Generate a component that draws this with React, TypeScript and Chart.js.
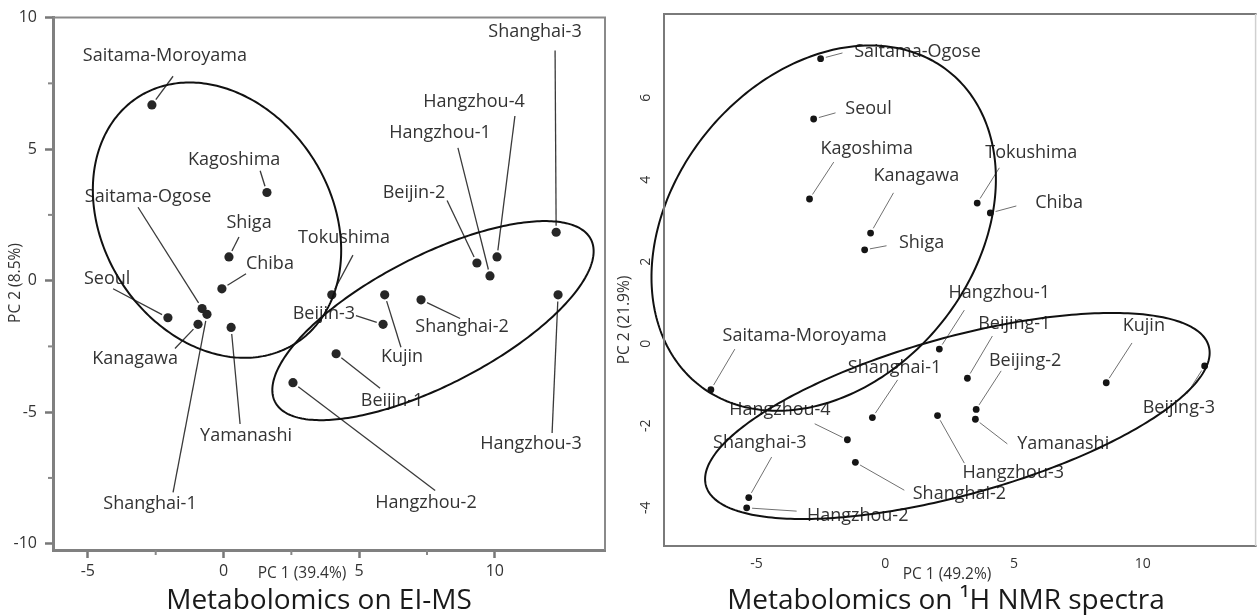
import React, { useEffect, useRef } from "react";
import { Chart, registerables } from "chart.js";

Chart.register(...registerables);

const FONT = '"Open Sans", "Noto Sans", sans-serif';

// ---------------- Left panel: Metabolomics on EI-MS ----------------
const EI_NAMES = [
  "Saitama-Moroyama", "Kagoshima", "Saitama-Ogose", "Shiga", "Chiba", "Seoul", "Kanagawa",
  "Yamanashi", "Shanghai-1", "Tokushima", "Beijin-3", "Kujin", "Shanghai-2", "Beijin-1",
  "Hangzhou-2", "Beijin-2", "Hangzhou-1", "Hangzhou-4", "Shanghai-3", "Hangzhou-3",
];
const EI_PC1 = [-2.64, 1.6, -0.79, 0.2, -0.06, -2.05, -0.94, 0.28, -0.61, 3.99, 5.88, 5.94, 7.28, 4.15, 2.56, 9.34, 9.82, 10.08, 12.26, 12.33];
const EI_PC2 = [6.68, 3.35, -1.06, 0.9, -0.31, -1.41, -1.66, -1.78, -1.28, -0.54, -1.66, -0.54, -0.73, -2.78, -3.88, 0.67, 0.18, 0.9, 1.84, -0.54];
// label anchors and leader-line starts (data units)
const EI_LABEL_X = [-2.16, 0.39, -2.78, 0.94, 1.71, -4.29, -3.26, 0.83, -2.71, 4.44, 3.7, 6.58, 8.79, 6.21, 7.46, 7.02, 7.98, 9.23, 11.48, 11.33];
const EI_LABEL_Y = [8.56, 4.61, 3.2, 2.18, 0.63, 0.07, -2.99, -5.9, -8.47, 1.62, -1.25, -2.9, -1.74, -4.58, -8.43, 3.35, 5.62, 6.79, 9.47, -6.2];
const EI_LEAD_X = [-1.86, 1.35, -3.15, 0.57, 0.83, -4.07, -1.79, 0.61, -1.86, 4.77, 4.88, 6.54, 8.72, 5.77, 7.8, 8.24, 8.64, 10.74, 12.22, 12.11];
const EI_LEAD_Y = [7.77, 4.18, 2.79, 1.66, 0.26, -0.31, -2.58, -5.45, -8.05, 0.97, -1.33, -2.53, -1.44, -4.09, -7.98, 3.05, 5.05, 6.26, 8.75, -5.79];
const EI_X_TICKS = [-5, 0, 5, 10];
const EI_X_MINOR = [-2.5, 2.5, 7.5];
const EI_Y_TICKS = [-10, -5, 0, 5, 10];
const EI_Y_MINOR = [-7.5, -2.5, 2.5, 7.5];
const EI_ELLIPSES = [
  { cx: -0.24, cy: 2.3, a: 5.51, b: 4.24, deg: -60.7 },
  { cx: 7.72, cy: -1.52, a: 6.59, b: 2.44, deg: 28.2 },
];

// ---------------- Right panel: Metabolomics on 1H NMR spectra ----------------
const NMR_NAMES = [
  "Saitama-Ogose", "Seoul", "Kagoshima", "Kanagawa", "Shiga", "Tokushima", "Chiba", "Hangzhou-1",
  "Saitama-Moroyama", "Shanghai-1", "Hangzhou-4", "Shanghai-3", "Hangzhou-2", "Shanghai-2",
  "Beijing-1", "Beijing-2", "Yamanashi", "Hangzhou-3", "Kujin", "Beijing-3",
];
const NMR_PC1 = [-2.51, -2.78, -2.94, -0.57, -0.8, 3.57, 4.08, 2.1, -6.77, -0.5, -1.47, -5.3, -5.38, -1.16, 3.19, 3.53, 3.5, 2.03, 8.58, 12.4];
const NMR_PC2 = [6.95, 5.48, 3.53, 2.7, 2.29, 3.43, 3.19, -0.13, -1.12, -1.8, -2.34, -3.75, -4.0, -2.89, -0.84, -1.6, -1.84, -1.75, -0.95, -0.54];
const NMR_LABEL_X = [1.25, -0.65, -0.72, 1.21, 1.41, 5.67, 6.75, 4.43, -3.13, 0.36, -4.09, -4.87, -1.07, 2.88, 5.01, 5.43, 6.91, 4.97, 10.04, 11.4];
const NMR_LABEL_Y = [7.12, 5.73, 4.75, 4.09, 2.46, 4.65, 3.43, 1.24, 0.19, -0.59, -1.61, -2.42, -4.2, -3.66, 0.48, -0.42, -2.44, -3.15, 0.43, -1.57];
const NMR_LEAD_X = [-1.66, -1.93, -2.0, 0.32, 0.05, 4.43, 5.09, 3.07, -5.84, 0.48, -2.74, -4.41, -3.44, 0.74, 4.16, 4.5, 4.74, 3.07, 9.58, 11.71];
const NMR_LEAD_Y = [7.09, 5.63, 4.43, 3.68, 2.39, 4.29, 3.36, 0.82, -0.13, -0.88, -1.95, -2.76, -4.08, -3.57, 0.19, -0.66, -2.44, -2.91, 0.02, -1.22];
const NMR_X_TICKS = [-5, 0, 5, 10];
const NMR_Y_TICKS = [-4, -2, 0, 2, 4, 6];
const NMR_ELLIPSES = [
  { cx: -2.39, cy: 2.82, a: 6.86, b: 4.18, deg: 16.4 },
  { cx: 2.8, cy: -1.76, a: 9.92, b: 1.96, deg: 9.3 },
];

type Ell = { cx: number; cy: number; a: number; b: number; deg: number };

const EI_PANEL = {
  id: "ei",
  names: EI_NAMES, pc1: EI_PC1, pc2: EI_PC2,
  labelX: EI_LABEL_X, labelY: EI_LABEL_Y, leadX: EI_LEAD_X, leadY: EI_LEAD_Y,
  ellipses: EI_ELLIPSES as Ell[],
  xTicks: EI_X_TICKS, yTicks: EI_Y_TICKS, xMinor: EI_X_MINOR, yMinor: EI_Y_MINOR,
  xMin: -6.285, xMax: 14.06, yMin: -10.24, yMax: 10,
  yAxisW: 53, xAxisH: 65, padTop: 14, padRight: 7,
  radius: 4.6, dot: "#262626", leaderColor: "#3a3a3a", leaderWidth: 1.3,
  axisStyle: true, tickFont: 16, xTickPad: 4, yTickPad: 8,
  xTitle: { text: "PC 1 (39.4%)", x: 302, y: 574 },
  yTitle: { text: "PC 2 (8.5%)", x: 16, y: 283 },
  big: { text: "Metabolomics on EI-MS", x: 319, y: 609 },
  yLabelX: 0,
};

const NMR_PANEL = {
  id: "nmr",
  names: NMR_NAMES, pc1: NMR_PC1, pc2: NMR_PC2,
  labelX: NMR_LABEL_X, labelY: NMR_LABEL_Y, leadX: NMR_LEAD_X, leadY: NMR_LEAD_Y,
  ellipses: NMR_ELLIPSES as Ell[],
  xTicks: NMR_X_TICKS, yTicks: NMR_Y_TICKS, xMinor: [] as number[], yMinor: [] as number[],
  xMin: -8.59, xMax: 14.34, yMin: -4.93, yMax: 8.04,
  yAxisW: 52, xAxisH: 69, padTop: 14, padRight: 2,
  radius: 3.4, dot: "#151515", leaderColor: "#707070", leaderWidth: 1,
  axisStyle: false, tickFont: 14, xTickPad: 10, yTickPad: 0,
  xTitle: { text: "PC 1 (49.2%)", x: 335, y: 575 },
  yTitle: { text: "PC 2 (21.9%)", x: 13, y: 320 },
  big: { text: "Metabolomics on \u00B9H NMR spectra", x: 334, y: 609 },
  yLabelX: 34,
};

type Panel = typeof EI_PANEL;

function annotations(p: Panel) {
  return {
    id: "annot_" + p.id,
    afterDatasetsDraw(chart: any) {
      const { ctx, scales } = chart;
      const x = scales.x, y = scales.y;
      ctx.save();
      // leader lines
      ctx.strokeStyle = p.leaderColor;
      ctx.lineWidth = p.leaderWidth;
      for (let i = 0; i < p.names.length; i++) {
        const px = x.getPixelForValue(p.pc1[i]);
        const py = y.getPixelForValue(p.pc2[i]);
        const sx = x.getPixelForValue(p.leadX[i]);
        const sy = y.getPixelForValue(p.leadY[i]);
        const dx = px - sx, dy = py - sy;
        const d = Math.hypot(dx, dy) || 1;
        const stop = p.radius + 2;
        ctx.beginPath();
        ctx.moveTo(sx, sy);
        ctx.lineTo(px - (dx / d) * stop, py - (dy / d) * stop);
        ctx.stroke();
      }
      // labels
      ctx.fillStyle = "#333";
      ctx.font = `18px ${FONT}`;
      ctx.textAlign = "center";
      ctx.textBaseline = "middle";
      for (let i = 0; i < p.names.length; i++) {
        ctx.fillText(p.names[i], x.getPixelForValue(p.labelX[i]), y.getPixelForValue(p.labelY[i]));
      }
      // group ellipses
      ctx.strokeStyle = "#111";
      ctx.lineWidth = 2;
      for (const e of p.ellipses) {
        const th = (e.deg * Math.PI) / 180;
        ctx.beginPath();
        const n = 300;
        for (let k = 0; k <= n; k++) {
          const t = (k / n) * Math.PI * 2;
          const ux = e.a * Math.cos(t), uy = e.b * Math.sin(t);
          const vx = e.cx + ux * Math.cos(th) - uy * Math.sin(th);
          const vy = e.cy + ux * Math.sin(th) + uy * Math.cos(th);
          const qx = x.getPixelForValue(vx), qy = y.getPixelForValue(vy);
          if (k === 0) ctx.moveTo(qx, qy);
          else ctx.lineTo(qx, qy);
        }
        ctx.closePath();
        ctx.stroke();
      }
      ctx.restore();
    },
    afterDraw(chart: any) {
      const { ctx, chartArea: a, scales } = chart;
      const x = scales.x, y = scales.y;
      ctx.save();
      if (p.axisStyle) {
        ctx.strokeStyle = "#8a8a8a";
        ctx.lineWidth = 2;
        ctx.beginPath();
        ctx.moveTo(a.left, a.top);
        ctx.lineTo(a.right, a.top);
        ctx.lineTo(a.right, a.bottom);
        ctx.stroke();
        // minor ticks
        ctx.strokeStyle = "#888";
        ctx.lineWidth = 2;
        for (const v of p.xMinor) {
          const px = x.getPixelForValue(v);
          ctx.beginPath();
          ctx.moveTo(px, a.bottom);
          ctx.lineTo(px, a.bottom + 5);
          ctx.stroke();
        }
        for (const v of p.yMinor) {
          const py = y.getPixelForValue(v);
          ctx.beginPath();
          ctx.moveTo(a.left, py);
          ctx.lineTo(a.left - 5, py);
          ctx.stroke();
        }
      } else {
        ctx.strokeStyle = "#7a7a7a";
        ctx.lineWidth = 2;
        ctx.beginPath();
        ctx.moveTo(a.right + 2, a.top);
        ctx.lineTo(a.left, a.top);
        ctx.lineTo(a.left, a.bottom);
        ctx.lineTo(a.right + 2, a.bottom);
        ctx.stroke();
        ctx.strokeStyle = "#d0d0d0";
        ctx.lineWidth = 1.5;
        ctx.beginPath();
        ctx.moveTo(a.right + 1, a.top);
        ctx.lineTo(a.right + 1, a.bottom);
        ctx.stroke();
        // rotated y tick labels
        ctx.fillStyle = "#333";
        ctx.font = `${p.tickFont}px ${FONT}`;
        ctx.textAlign = "center";
        ctx.textBaseline = "middle";
        for (const v of p.yTicks) {
          ctx.save();
          ctx.translate(p.yLabelX, y.getPixelForValue(v));
          ctx.rotate(-Math.PI / 2);
          ctx.fillText(String(v), 0, 0);
          ctx.restore();
        }
      }
      // axis titles
      ctx.fillStyle = "#333";
      ctx.font = `15.5px ${FONT}`;
      ctx.textAlign = "center";
      ctx.textBaseline = "middle";
      ctx.fillText(p.xTitle.text, p.xTitle.x, p.xTitle.y);
      ctx.save();
      ctx.translate(p.yTitle.x, p.yTitle.y);
      ctx.rotate(-Math.PI / 2);
      ctx.fillText(p.yTitle.text, 0, 0);
      ctx.restore();
      // big caption
      ctx.fillStyle = "#1a1a1a";
      ctx.font = `28px ${FONT}`;
      ctx.textBaseline = "alphabetic";
      ctx.fillText(p.big.text, p.big.x, p.big.y);
      ctx.restore();
    },
  };
}

function makeConfig(p: Panel): any {
  const tickFont = { family: FONT, size: p.tickFont };
  return {
    type: "scatter",
    data: {
      datasets: [
        {
          data: p.pc1.map((v, i) => ({ x: v, y: p.pc2[i] })),
          pointRadius: p.radius,
          pointHoverRadius: p.radius,
          pointBackgroundColor: p.dot,
          pointBorderWidth: 0,
          showLine: false,
        },
      ],
    },
    options: {
      responsive: false,
      maintainAspectRatio: false,
      animation: false,
      devicePixelRatio: 1,
      events: [],
      layout: { padding: { left: 0, top: p.padTop, right: p.padRight, bottom: 0 } },
      plugins: { legend: { display: false }, tooltip: { enabled: false }, title: { display: false } },
      scales: {
        x: {
          type: "linear",
          position: "bottom",
          min: p.xMin,
          max: p.xMax,
          afterBuildTicks: (s: any) => {
            s.ticks = p.xTicks.map((v) => ({ value: v }));
          },
          afterFit: (s: any) => {
            s.height = p.xAxisH;
          },
          grid: {
            display: p.axisStyle,
            drawOnChartArea: false,
            drawTicks: p.axisStyle,
            tickLength: 8,
            tickWidth: 2.5,
            tickColor: "#777",
          },
          border: { display: p.axisStyle, color: "#808080", width: 3 },
          ticks: {
            autoSkip: false,
            maxRotation: 0,
            minRotation: 0,
            padding: p.xTickPad,
            color: "#333",
            font: tickFont,
            callback: (v: any) => String(v),
          },
        },
        y: {
          type: "linear",
          position: "left",
          min: p.yMin,
          max: p.yMax,
          afterBuildTicks: (s: any) => {
            s.ticks = p.yTicks.map((v) => ({ value: v }));
          },
          afterFit: (s: any) => {
            s.width = p.yAxisW;
          },
          grid: {
            display: p.axisStyle,
            drawOnChartArea: false,
            drawTicks: p.axisStyle,
            tickLength: 8,
            tickWidth: 2.5,
            tickColor: "#777",
          },
          border: { display: p.axisStyle, color: "#808080", width: 3 },
          ticks: {
            display: p.axisStyle,
            autoSkip: false,
            padding: p.yTickPad,
            color: "#333",
            font: tickFont,
            callback: (v: any) => String(v),
          },
        },
      },
    },
    plugins: [annotations(p)],
  };
}

export default function App() {
  const leftRef = useRef<HTMLCanvasElement>(null);
  const rightRef = useRef<HTMLCanvasElement>(null);

  useEffect(() => {
    const c1 = new Chart(leftRef.current as HTMLCanvasElement, makeConfig(EI_PANEL));
    const c2 = new Chart(rightRef.current as HTMLCanvasElement, makeConfig(NMR_PANEL as any));
    return () => {
      c1.destroy();
      c2.destroy();
    };
  }, []);

  return (
    <div
      style={{
        position: "absolute",
        left: 0,
        top: 0,
        width: 1258,
        height: 615,
        background: "#ffffff",
        overflow: "hidden",
      }}
    >
      <canvas ref={leftRef} width={612} height={615} style={{ position: "absolute", left: 0, top: 0 }} />
      <canvas ref={rightRef} width={646} height={615} style={{ position: "absolute", left: 612, top: 0 }} />
    </div>
  );
}
